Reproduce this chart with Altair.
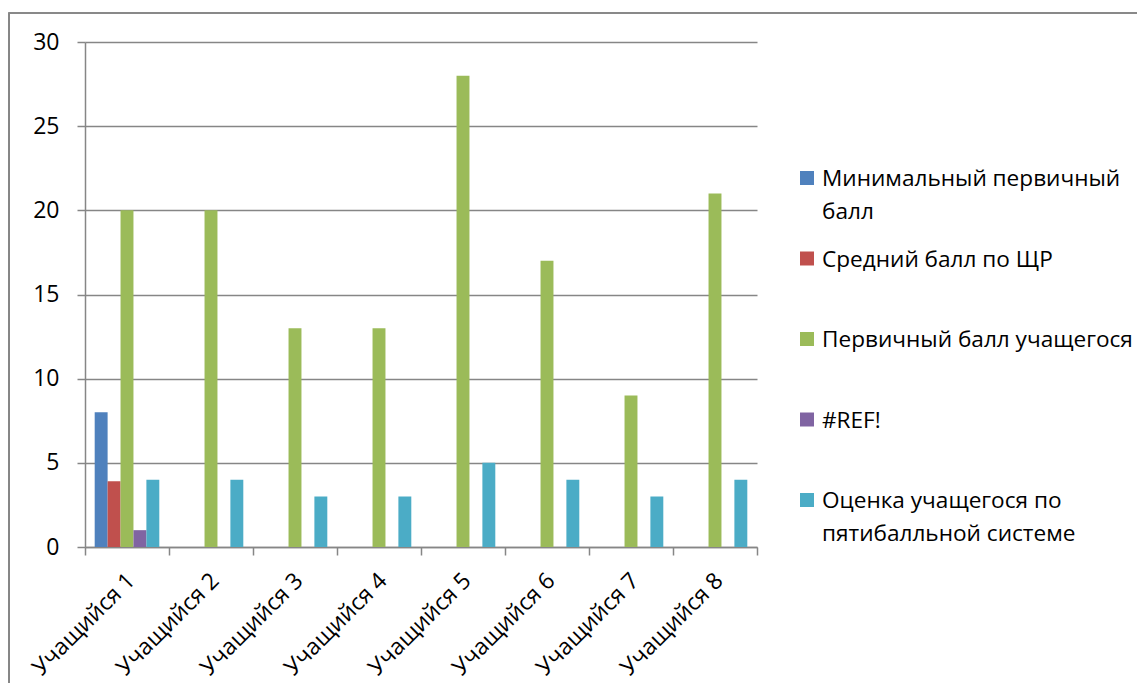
import altair as alt
import pandas as pd

categories = ["Учащийся 1", "Учащийся 2", "Учащийся 3", "Учащийся 4",
              "Учащийся 5", "Учащийся 6", "Учащийся 7", "Учащийся 8"]
series = ["Минимальный первичный балл", "Средний балл по ЩР",
          "Первичный балл учащегося", "#REF!",
          "Оценка учащегося по пятибалльной системе"]
legend_labels = ["Минимальный первичный\nбалл", "Средний балл по ЩР",
                 "Первичный балл учащегося", "#REF!",
                 "Оценка учащегося по\nпятибалльной системе"]
min_primary = [8, None, None, None, None, None, None, None]
avg_score = [3.9, None, None, None, None, None, None, None]
student_primary = [20, 20, 13, 13, 28, 17, 9, 21]
ref_error = [1, None, None, None, None, None, None, None]
grade5 = [4, 4, 3, 3, 5, 4, 3, 4]
colors = ["#4F81BD", "#C0504D", "#9BBB59", "#8064A2", "#4BACC6"]
y_ticks = [0, 5, 10, 15, 20, 25, 30]

values_by_series = [min_primary, avg_score, student_primary, ref_error, grade5]
rows = []
for s, vals in zip(series, values_by_series):
    for c, v in zip(categories, vals):
        if v is not None:
            rows.append({"category": c, "series": s, "value": v})
df = pd.DataFrame(rows)
leg_df = pd.DataFrame({"series": series, "label": legend_labels})

FONT = "Open Sans"
GRAY = "#868686"
color_scale = alt.Scale(domain=series, range=colors)

bars = alt.Chart(df).mark_bar().encode(
    x=alt.X("category:N", sort=categories, title=None,
            scale=alt.Scale(paddingInner=0, paddingOuter=0),
            axis=alt.Axis(labelAngle=-45, labelAlign="right", labelBaseline="top",
                          tickBand="extent", tickSize=8, labelPadding=14, labelOffset=-4,
                          labelOverlap=False, labelFontSize=23, labelColor="#000000",
                          domainColor=GRAY, tickColor=GRAY, domainWidth=1.5,
                          tickWidth=1.5, grid=False)),
    xOffset=alt.XOffset("series:N", sort=series,
                        scale=alt.Scale(domain=series, paddingInner=0, paddingOuter=0.75)),
    y=alt.Y("value:Q", title=None,
            scale=alt.Scale(domain=[0, 30], nice=False),
            axis=alt.Axis(values=y_ticks, tickSize=8, labelPadding=18,
                          labelFontSize=23, labelColor="#000000",
                          domainColor=GRAY, tickColor=GRAY, gridColor=GRAY,
                          domainWidth=1.5, tickWidth=1.5, gridWidth=1.5, grid=True)),
    color=alt.Color("series:N", scale=color_scale, legend=None),
)

frame = alt.Chart(leg_df).mark_rect(fill=None, stroke=GRAY, strokeWidth=1.2).encode(
    x=alt.value(-76), x2=alt.value(1100), y=alt.value(-29), y2=alt.value(700)
)

leg_y = alt.Y("series:N", sort=series, axis=None,
              scale=alt.Scale(type="point", domain=series, range=[136, 458], padding=0))

leg_sq = alt.Chart(leg_df).mark_square(size=196, opacity=1).encode(
    x=alt.value(722),
    y=leg_y,
    color=alt.Color("series:N", scale=color_scale, legend=None),
)
leg_txt = alt.Chart(leg_df).mark_text(
    align="left", baseline="alphabetic", dy=8, fontSize=22.6, font=FONT,
    lineBreak="\n", lineHeight=33, color="#000000"
).encode(
    x=alt.value(737),
    y=leg_y,
    text="label:N",
)

chart = alt.layer(frame, bars, leg_sq, leg_txt).resolve_scale(
    y="independent"
).properties(
    width=672, height=505,
    autosize=alt.AutoSizeParams(type="none"),
    padding={"left": 77, "top": 34, "right": 380, "bottom": 136},
).configure(
    font=FONT
).configure_view(stroke=None)

chart.save("out.html", embed_options={"renderer": "svg", "actions": False})
